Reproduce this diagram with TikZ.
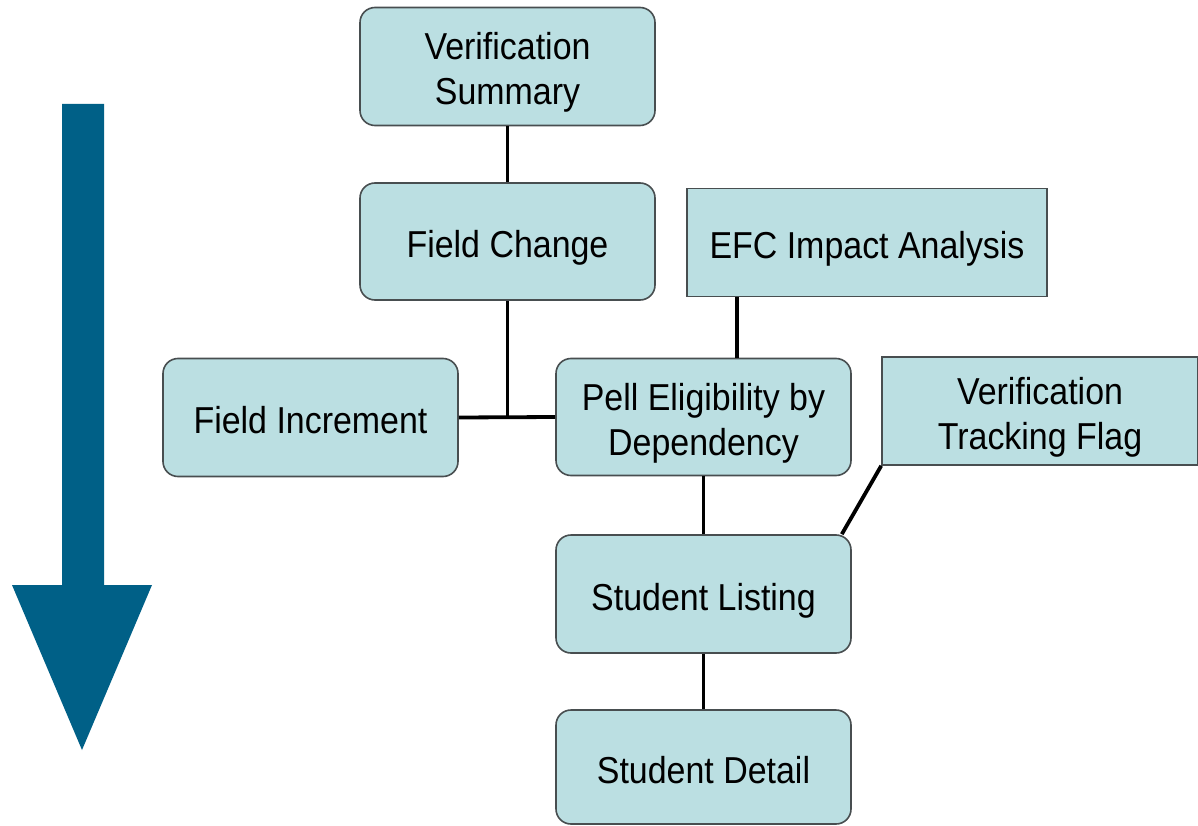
\documentclass[tikz,border=0pt]{standalone}
\usepackage{fontspec}
\setmainfont{Liberation Sans}[FakeStretch=0.905]
\usetikzlibrary{calc}
\definecolor{boxfill}{RGB}{187,223,226}
\definecolor{boxline}{RGB}{72,78,80}
\definecolor{flowblue}{RGB}{0,96,135}
\begin{document}
\begin{tikzpicture}[x=1pt,y=-1pt,
  card/.style={draw=boxline, line width=1.6pt, fill=boxfill, align=center,
    inner sep=0pt, font=\fontsize{37.5}{45}\selectfont},
  roundcard/.style={card, rounded corners=15pt},
  oneline/.style={text height=32pt, text depth=0pt},
  twoline/.style={text height=77pt, text depth=0pt},
  link/.style={draw=black, line width=3.8pt}]
\useasboundingbox (0,0) rectangle (1198,826);
\fill[white] (0,0) rectangle (1198,826);

% downward flow arrow
\fill[flowblue] (62,104) -- (104,104) -- (104,585) -- (152,585) -- (82,750)
  -- (12,585) -- (62,585) -- cycle;

% report cards
\node[roundcard, twoline, minimum width=295pt, minimum height=118pt] (vs) at (507.5,66.5) {Verification\\Summary};
\node[roundcard, oneline, minimum width=295pt, minimum height=117pt] (fc) at (507.5,241.5) {Field Change};
\node[card, oneline, minimum width=360pt, minimum height=108pt] (efc) at (867,242.5) {EFC Impact Analysis};
\node[roundcard, oneline, minimum width=295pt, minimum height=118pt] (fi) at (310.5,417.5) {Field Increment};
\node[roundcard, twoline, minimum width=295pt, minimum height=117pt] (pell) at (703.5,417) {Pell Eligibility by\\Dependency};
\node[card, twoline, minimum width=316pt, minimum height=108pt] (vtf) at (1040,411) {Verification\\Tracking Flag};
\node[roundcard, oneline, minimum width=295pt, minimum height=118pt] (sl) at (703.5,594) {Student Listing};
\node[roundcard, oneline, minimum width=295pt, minimum height=114pt] (sd) at (703.5,767) {Student Detail};

% connectors
\coordinate (j) at (fc.south |- fi.east);
\path[link] (vs.south) -- (fc.north);
\path[link] (fc.south) -- (j);
\path[link] (fi.east) -- (pell.west);
\path[link] ([xshift=51pt]efc.south west) -- ([xshift=51pt]efc.south west |- pell.north);
\path[link] (pell.south) -- (sl.north);
\path[link] (vtf.south west) -- ([xshift=-10pt]sl.north east);
\path[link] (sl.south) -- (sd.north);
\end{tikzpicture}
\end{document}
